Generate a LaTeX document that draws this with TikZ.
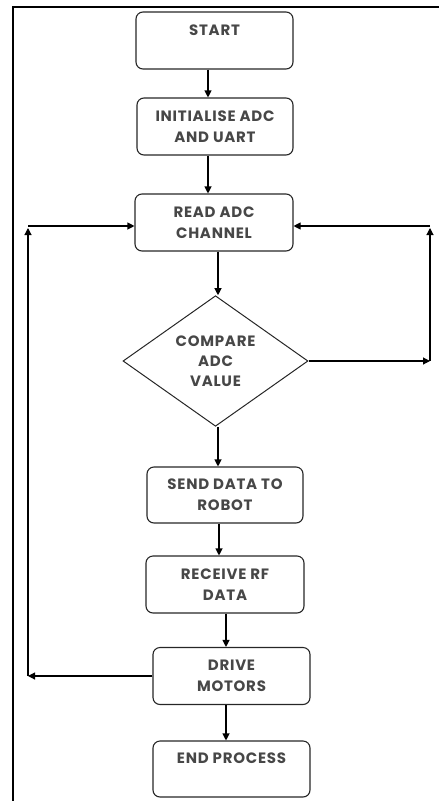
\documentclass[tikz,border=0pt]{standalone}
\usepackage{fontspec}
\setmainfont{Poppins}[LetterSpace=5]
\usetikzlibrary{shapes.geometric,arrows.meta,calc}
\begin{document}
\begin{tikzpicture}[x=1pt,y=-1pt,
  boxst/.style={draw=black!85,line width=1.1pt,rounded corners=7pt,inner sep=0pt,
    minimum width=157pt,minimum height=57pt,align=center,
    font=\fontsize{15}{21}\selectfont\bfseries,text=black!72},
  dmd/.style={draw=black!85,line width=1pt,shape=diamond,inner sep=0pt,
    minimum width=185pt,minimum height=130pt,align=center,
    font=\fontsize{15}{20}\selectfont\bfseries,text=black!72},
  arr/.style={draw=black,line width=1.1pt,-{Triangle[length=7pt,width=7pt]}}]
\useasboundingbox (0,0) rectangle (439,801);
\draw[line width=2pt] (439,7) -- (13,7) -- (13,801);

\node[boxst] (start) at (214.5,40.5) {START\\\mbox{}};
\node[boxst,minimum width=156pt] (init) at (215,126.5) {INITIALISE ADC\\AND UART};
\node[boxst,minimum width=158pt] (read) at (214,222.5) {READ ADC\\CHANNEL};
\node[dmd] (cmp) at (215.5,361) {COMPARE\\ADC\\VALUE};
\node[boxst,minimum width=156pt,minimum height=56pt] (send) at (225,495) {SEND DATA TO\\ROBOT};
\node[boxst,minimum width=158pt] (recv) at (225,584.5) {RECEIVE RF\\DATA};
\node[boxst] (drive) at (231.5,676) {DRIVE\\MOTORS};
\node[boxst,minimum height=56pt] (endp) at (231.5,769) {END PROCESS\\\mbox{}};

\draw[arr] ([xshift=-6.5pt]start.south) -- ([xshift=-7pt]init.north);
\draw[arr] ([xshift=-7pt]init.south) -- ([xshift=-6pt]read.north);
\draw[arr] ([xshift=4pt]read.south) -- ([xshift=2.5pt]cmp.north);
\draw[arr] ([xshift=2.5pt]cmp.south) -- ([xshift=-7pt]send.north);
\draw[arr] ([xshift=-6pt]send.south) -- ([xshift=-6pt]recv.north);
\draw[arr] ([xshift=1pt]recv.south) -- ([xshift=-5.5pt]drive.north);
\draw[arr] ([xshift=-5.5pt]drive.south) -- ([xshift=-5.5pt]endp.north);

\coordinate (r1) at (430,361);
\coordinate (r2) at (430,226);
\draw[arr] (cmp.east) -- (cmp.east -| r1);
\draw[arr] (r1) -- ([yshift=-2pt]r2);
\draw[arr] (r2) -- (r2 -| read.east);

\coordinate (l1) at (28,676);
\coordinate (l2) at (28,226);
\draw[arr] (drive.west) -- (drive.west -| l1);
\draw[arr] (l1) -- ([yshift=-2pt]l2);
\draw[arr] (l2) -- (l2 -| read.west);
\end{tikzpicture}
\end{document}
